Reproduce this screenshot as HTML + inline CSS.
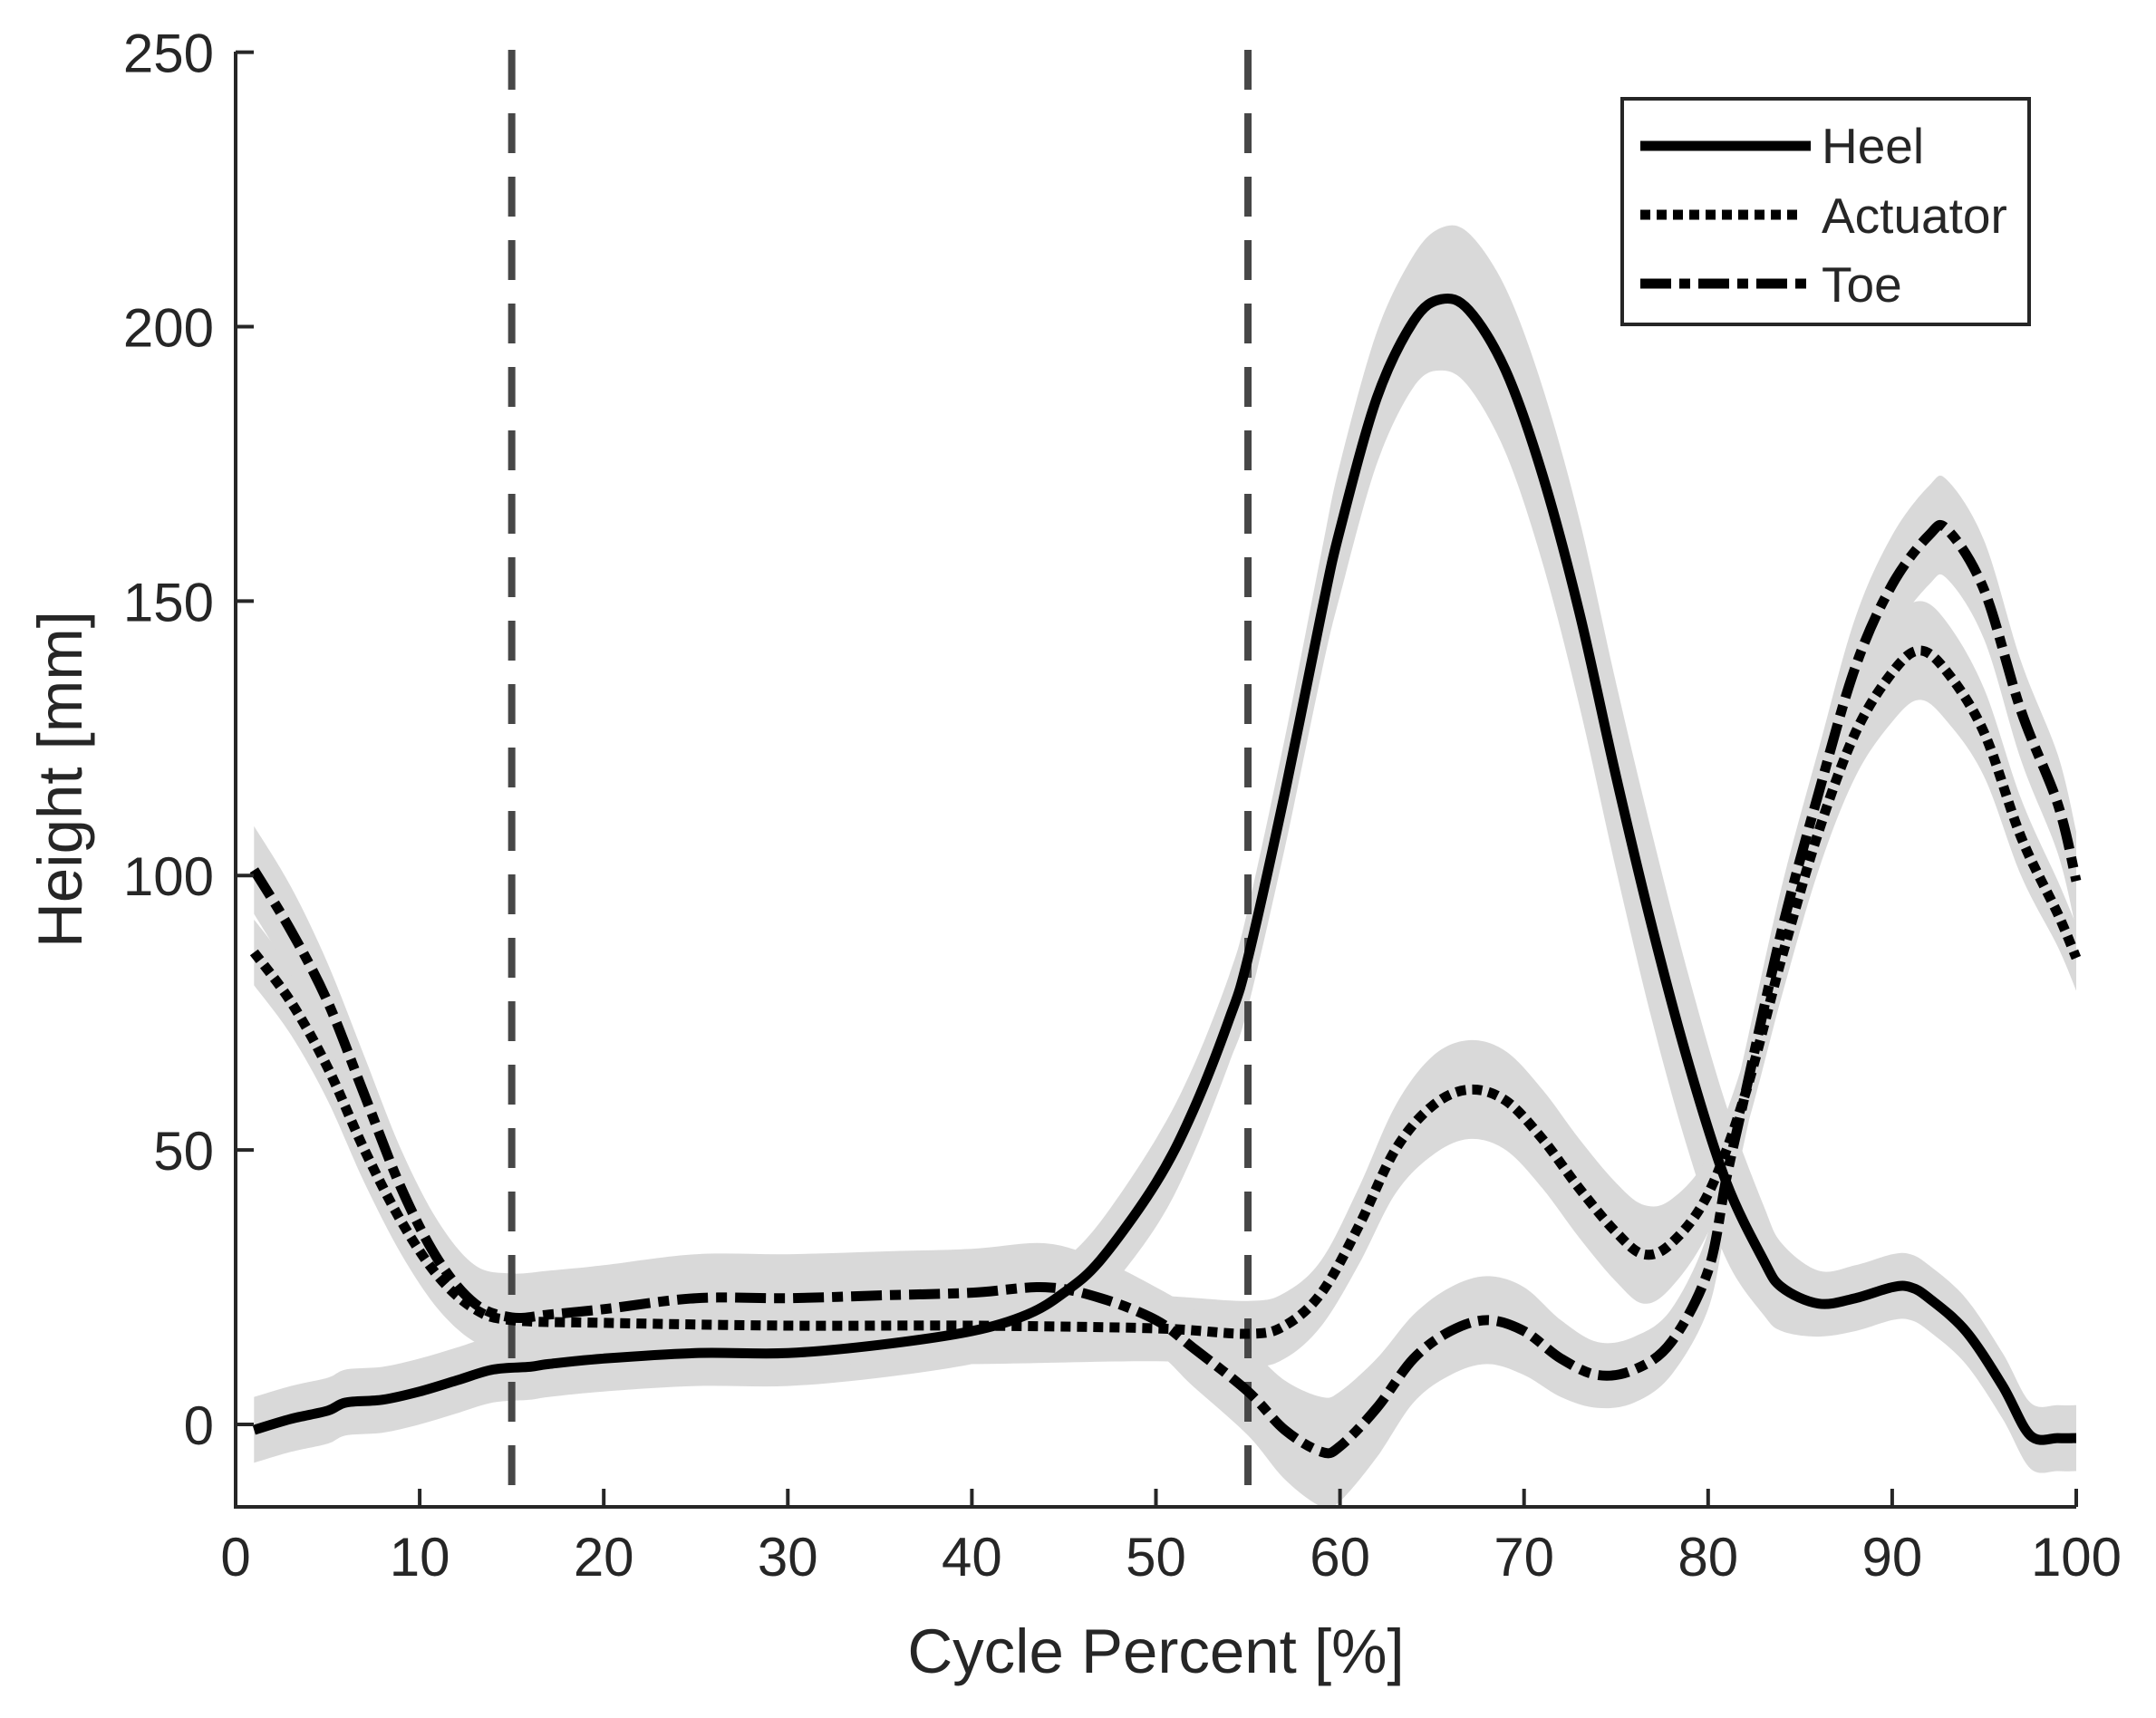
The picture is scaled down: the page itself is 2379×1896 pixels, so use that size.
<!DOCTYPE html>
<html><head><meta charset="utf-8"><style>
html,body{margin:0;padding:0;background:#fff}
svg{display:block}
text{font-family:"Liberation Sans",sans-serif;fill:#262626}
</style></head><body>
<svg id="chart" width="2379" height="1896" viewBox="0 0 2379 1896" xmlns="http://www.w3.org/2000/svg">
<g id="bands"></g>
<g id="vlines"></g>
<g id="lines"></g>
<g id="axes"></g>
<g id="legend">
  <rect x="1790" y="109" width="449" height="249" fill="#fff" stroke="#262626" stroke-width="4"/>
  <line x1="1810" y1="161" x2="1998" y2="161" stroke="#000" stroke-width="11"/>
  <text x="2010" y="180" font-size="55">Heel</text>
  <line x1="1810" y1="237" x2="1988" y2="237" stroke="#000" stroke-width="11" stroke-dasharray="11,7"/>
  <text x="2010" y="257" font-size="55">Actuator</text>
  <line x1="1810" y1="313" x2="1998" y2="313" stroke="#000" stroke-width="11" stroke-dasharray="34,9,12,9"/>
  <text x="2010" y="333" font-size="55">Toe</text>
</g>
</svg>
<script>
const xTicks=[0,10,20,30,40,50,60,70,80,90,100];
const yTicks=[0,50,100,150,200,250];
const phaseLines=[15,55];
const heelX=[1,3,5,6,8,10,12,14,16,17,20,25,30,35,40,43,45,47,50,52,54,55,57,59,60,62,64,65.5,67,69,71,73,75,77,79,81,83,84,86,88,90,91,92,94,96,97.5,99,100];
const heelY=[-1,1,2.5,4,4.5,6,8,10,10.5,11,12,13,13,14.5,17,20,24,30,44,57,74,85,115,148,163,187,201,205,203,192,173,148,118,90,65,44,30,25,22,23,25,25,23,17,7,-2,-2.5,-2.5];
const heelSd=[6,6,6,6,6,6,6,6,6,6,6,6,6,6,6,6,6,7,8,8,8,9,10,11,12,12,12,13,14,15,16,17,17,17,16,14,10,8,6,6,6,6,6,6,6,6,6,6];
const actX=[1,3,5,7,9,11,13,15,20,30,40,50,55,57,59,61,63,65,67,69,71,73,75,76.5,78,80,82,84,86,88,90,91.5,93,95,97,99,100];
const actY=[86,77,65,50,37,27,21,19,18.5,18,18,17.5,16.5,18,24,36,50,58,61,59,52,43,35,31,33,42,60,85,108,126,137,141,137,126,107,93,85];
const actSd=[6,6,6,6,6,6,6,6,7,7,7,6,6,6,6,7,8,9,9,9,9,9,9,9,8,7,7,7,7,8,9,9,9,8,7,6,6];
const toeX=[1,3,5,7,9,11,13,15,17,20,25,30,35,40,44,47,50,52,55,57,59,60,62,64,66,68,70,72,74,76,78,80,81,82,84,86,88,90,92,93,95,97,99,100];
const toeY=[101,90,77,60,43,30,22,19.5,20,21,23,23,23.5,24,25,23,19,14,6,-1,-5,-4,3,12,17,19,17,12,9,10,15,28,45,60,90,115,138,153,162,163,152,130,113,99];
const toeSd=[8,8,7,7,7,7,7,8,8,8,8,8,8,8,8,7,6,7,8,9,10,10,9,8,8,8,8,7,6,6,6,7,8,8,8,8,9,9,9,9,9,9,9,9];

const X0=260,X1=2291,YB=1572,PX=(YB-57.6)/250;
const sx=v=>X0+(v/100)*(X1-X0);
const sy=v=>YB-v*PX;
const NS="http://www.w3.org/2000/svg";
function mk(tag,attrs,parent){const e=document.createElementNS(NS,tag);for(const k in attrs)e.setAttribute(k,attrs[k]);parent.appendChild(e);return e;}
function smooth(pts){
  let d="M"+pts[0][0].toFixed(1)+","+pts[0][1].toFixed(1);
  for(let i=0;i<pts.length-1;i++){
    const p0=pts[Math.max(0,i-1)],p1=pts[i],p2=pts[i+1],p3=pts[Math.min(pts.length-1,i+2)];
    const c1=[p1[0]+(p2[0]-p0[0])/6,p1[1]+(p2[1]-p0[1])/6];
    const c2=[p2[0]-(p3[0]-p1[0])/6,p2[1]-(p3[1]-p1[1])/6];
    d+=" C"+c1[0].toFixed(1)+","+c1[1].toFixed(1)+" "+c2[0].toFixed(1)+","+c2[1].toFixed(1)+" "+p2[0].toFixed(1)+","+p2[1].toFixed(1);
  }
  return d;
}
const bands=document.getElementById('bands'),lines=document.getElementById('lines'),axes=document.getElementById('axes'),vl=document.getElementById('vlines');
const series=[
  {name:'heel',x:heelX,y:heelY,sd:heelSd,dash:null},
  {name:'actuator',x:actX,y:actY,sd:actSd,dash:'11,7'},
  {name:'toe',x:toeX,y:toeY,sd:toeSd,dash:'34,9,12,9'}
];
series.forEach(s=>{
  const up=s.x.map((v,i)=>[sx(v),sy(s.y[i]+s.sd[i])]);
  const lo=s.x.map((v,i)=>[sx(v),sy(s.y[i]-s.sd[i])]).reverse();
  const d=smooth(up)+" L"+smooth(lo).slice(1)+" Z";
  const p=mk('path',{d:d,fill:'#d9d9d9'},bands);
  
  
});
phaseLines.forEach(v=>{
  const l=mk('line',{x1:sx(v),x2:sx(v),y1:55,y2:1663,stroke:'#474747','stroke-width':8,'stroke-dasharray':'44,26'},vl);
  
  
});
series.forEach(s=>{
  const pts=s.x.map((v,i)=>[sx(v),sy(s.y[i])]);
  const a={d:smooth(pts),fill:'none',stroke:'#000','stroke-width':11,'stroke-linejoin':'round'};
  if(s.dash)a['stroke-dasharray']=s.dash;
  const p=mk('path',a,lines);
  
  
});
const ax=mk('path',{d:`M${X0},57 L${X0},1663 L${X1},1663`,fill:'none',stroke:'#262626','stroke-width':4},axes);


xTicks.forEach(v=>{
  const t=mk('line',{x1:sx(v),x2:sx(v),y1:1663,y2:1643,stroke:'#262626','stroke-width':4},axes);
  
  
  const tx=mk('text',{x:sx(v),y:1739,'font-size':60,'text-anchor':'middle'},axes);
  tx.textContent=v;
  
  
});
yTicks.forEach(v=>{
  const t=mk('line',{x1:X0,x2:X0+20,y1:sy(v),y2:sy(v),stroke:'#262626','stroke-width':4},axes);
  
  
  const tx=mk('text',{x:X0-24,y:sy(v)+22,'font-size':60,'text-anchor':'end'},axes);
  tx.textContent=v;
  
  
});
const xt=mk('text',{x:(X0+X1)/2,y:1846,'font-size':69,'text-anchor':'middle'},axes);
xt.textContent='Cycle Percent [%]';


const yt=mk('text',{x:0,y:0,'font-size':69,'text-anchor':'middle',transform:`translate(90,${(57+1663)/2}) rotate(-90)`},axes);
yt.textContent='Height [mm]';


</script>
</body></html>
